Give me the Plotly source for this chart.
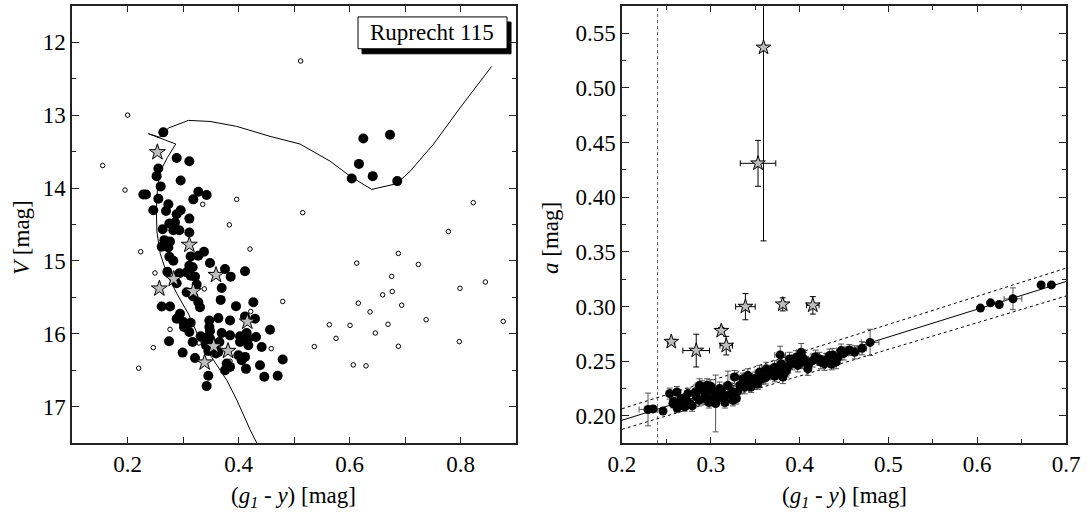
import plotly.graph_objects as go

# ---------------- Left panel: CMD ----------------
iso_x = [0.433, 0.421, 0.397, 0.379, 0.355, 0.331, 0.310, 0.289, 0.271, 0.259, 0.253, 0.252, 0.254,
         0.259, 0.272, 0.287, 0.2375, 0.2586, 0.2735, 0.3096, 0.3486, 0.3967, 0.4568, 0.5108, 0.5649,
         0.6009, 0.640, 0.685, 0.709, 0.751, 0.799, 0.856]
iso_V = [17.5, 17.32, 16.91, 16.64, 16.36, 16.09, 15.73, 15.45, 15.18, 14.9, 14.6, 14.3, 14.0,
         13.77, 13.58, 13.395, 13.253, 13.303, 13.176, 13.071, 13.085, 13.153, 13.29, 13.395, 13.63,
         13.836, 14.018, 13.94, 13.77, 13.40, 12.90, 12.33]

mem_x = [0.2645, 0.2886, 0.3114, 0.2556, 0.2525, 0.2958, 0.2598, 0.2285, 0.2333, 0.3276, 0.3426, 0.3186,
         0.2556, 0.2465, 0.2736, 0.2694, 0.2958, 0.2886, 0.3114, 0.2754, 0.2856, 0.2934, 0.2634, 0.2826,
         0.3114, 0.2664, 0.2766, 0.2616, 0.2736, 0.3378, 0.3276, 0.3138, 0.3486, 0.2754, 0.2826, 0.3114,
         0.3174, 0.2718, 0.2934, 0.3066, 0.3138, 0.3216, 0.3757, 0.4117, 0.3859, 0.2886, 0.3246, 0.3697,
         0.3066, 0.3186, 0.3679, 0.2616, 0.2766, 0.3276, 0.3306, 0.3955, 0.4267, 0.2946, 0.2886, 0.3006,
         0.3138, 0.3474, 0.3637, 0.3847, 0.4117, 0.4297, 0.3018, 0.3114, 0.3474, 0.3486, 0.3697, 0.3847,
         0.4147, 0.4568, 0.3318, 0.3396, 0.3486, 0.4027, 0.4177, 0.4315, 0.2748, 0.3174, 0.3414, 0.3559,
         0.3655, 0.4027, 0.4177, 0.4417, 0.3637, 0.2994, 0.3456, 0.3595, 0.3997, 0.4117, 0.3216, 0.4057,
         0.4796, 0.3787, 0.3847, 0.3757, 0.4387, 0.4135, 0.3456, 0.4465, 0.4706, 0.3426,
         0.6249, 0.673, 0.617, 0.604, 0.6418, 0.686]
mem_V = [13.235, 13.586, 13.631, 13.731, 13.836, 13.895, 13.977, 14.087, 14.087, 14.05, 14.096, 14.155,
         14.146, 14.305, 14.223, 14.314, 14.305, 14.36, 14.419, 14.487, 14.474, 14.578, 14.565, 14.578,
         14.61, 14.715, 14.733, 14.806, 14.815, 14.874, 14.929, 14.938, 15.029, 14.943, 14.997, 15.066,
         15.088, 15.148, 15.17, 15.157, 15.202, 15.216, 15.111, 15.143, 15.216, 15.307, 15.325, 15.371,
         15.43, 15.489, 15.535, 15.626, 15.626, 15.567, 15.635, 15.621, 15.567, 15.726, 15.794, 15.84,
         15.849, 15.817, 15.785, 15.817, 15.762, 15.794, 15.908, 15.976, 15.908, 15.963, 15.99, 16.022,
         15.99, 15.945, 16.036, 16.054, 16.067, 16.036, 16.067, 16.045, 16.104, 16.113, 16.158, 16.158,
         16.113, 16.113, 16.158, 16.181, 16.25, 16.259, 16.236, 16.272, 16.295, 16.318, 16.332, 16.364,
         16.354, 16.409, 16.455, 16.5, 16.432, 16.482, 16.577, 16.591, 16.577, 16.719,
         13.32, 13.267, 13.668, 13.868, 13.836, 13.904]

star_x = [0.2538, 0.3114, 0.3595, 0.2832, 0.2574, 0.3186, 0.4159, 0.3553, 0.3811, 0.339]
star_V = [13.508, 14.779, 15.193, 15.248, 15.38, 15.416, 15.835, 16.172, 16.236, 16.395]

fld_x = [0.1553, 0.2003, 0.512, 0.1955, 0.3967, 0.3355, 0.5157, 0.3835, 0.823, 0.778, 0.4207, 0.2238,
         0.2495, 0.3384, 0.4796, 0.422, 0.2766, 0.3288, 0.2465, 0.459, 0.2201, 0.3847,
         0.688, 0.613, 0.724, 0.676, 0.8447, 0.799, 0.6598, 0.677, 0.6159, 0.694, 0.637, 0.738, 0.877,
         0.5636, 0.6009, 0.6694, 0.5757, 0.6465, 0.7978, 0.5366, 0.688, 0.6068, 0.6297]
fld_V = [13.69, 12.998, 12.255, 14.027, 14.155, 14.223, 14.337, 14.505, 14.2, 14.597, 14.837, 14.874,
         15.166, 15.384, 15.557, 15.694, 15.94, 16.127, 16.19, 16.204, 16.473, 16.377,
         14.897, 15.03, 15.048, 15.212, 15.289, 15.376, 15.466, 15.42, 15.58, 15.608, 15.7, 15.807, 15.83,
         15.876, 15.885, 15.87, 16.063, 15.99, 16.108, 16.176, 16.172, 16.428, 16.441]

# ---------------- Right panel: a vs (g1-y) ----------------
r_x = [0.2293, 0.2350, 0.2462, 0.2537, 0.2619, 0.2574, 0.2649, 0.2705, 0.2743, 0.2761, 0.2668, 0.2874,
       0.2912, 0.2957, 0.2930, 0.3005, 0.3024, 0.3061, 0.3099, 0.2836, 0.3054, 0.3136, 0.3193, 0.3249,
       0.3287, 0.3268, 0.3362, 0.3418, 0.3455, 0.3474, 0.3549, 0.3587, 0.3624, 0.3662, 0.3718, 0.3756,
       0.3793, 0.3781, 0.3811, 0.3849, 0.3887, 0.3961, 0.4018, 0.4036, 0.4093, 0.4149, 0.4224, 0.4281,
       0.4336, 0.4374, 0.4411, 0.4468, 0.4560, 0.4704, 0.4794,
       0.6036, 0.6150, 0.6248, 0.6403, 0.6720, 0.6835,
       0.258, 0.262, 0.268, 0.272, 0.279, 0.283, 0.287, 0.290, 0.294, 0.298, 0.300, 0.304, 0.308,
       0.312, 0.316, 0.320, 0.325, 0.330, 0.333, 0.338, 0.342, 0.350, 0.353, 0.357, 0.362, 0.368,
       0.372, 0.378, 0.383, 0.387, 0.392, 0.398, 0.405, 0.410, 0.418, 0.424, 0.430, 0.436, 0.443,
       0.450, 0.462]
r_a = [0.2057, 0.2062, 0.2042, 0.2202, 0.2217, 0.2112, 0.2096, 0.2081, 0.2202, 0.2112, 0.2157, 0.2278,
       0.2233, 0.2278, 0.2157, 0.2233, 0.2157, 0.2202, 0.2248, 0.2172, 0.2112, 0.2187, 0.2278, 0.2218,
       0.2157, 0.2354, 0.2339, 0.2369, 0.2263, 0.2324, 0.2399, 0.2339, 0.2429, 0.2384, 0.2444, 0.2399,
       0.2475, 0.2556, 0.2354, 0.2414, 0.2520, 0.2535, 0.2581, 0.2490, 0.2429, 0.2505, 0.2520, 0.2475,
       0.2550, 0.2556, 0.2490, 0.2596, 0.2602, 0.2617, 0.2671,
       0.2985, 0.3033, 0.3018, 0.3070, 0.3197, 0.3197,
       0.213, 0.207, 0.212, 0.216, 0.209, 0.222, 0.214, 0.226, 0.219, 0.212, 0.227, 0.222, 0.216,
       0.223, 0.212, 0.219, 0.214, 0.222, 0.228, 0.226, 0.231, 0.234, 0.229, 0.236, 0.235, 0.240,
       0.236, 0.242, 0.239, 0.245, 0.248, 0.246, 0.252, 0.247, 0.254, 0.249, 0.251, 0.247, 0.253,
       0.257, 0.258]
r_ex = [0.010, 0.003, 0.003, 0.004, 0.004, 0.003, 0.004, 0.004, 0.004, 0.003, 0.004, 0.005,
        0.004, 0.005, 0.004, 0.004, 0.004, 0.004, 0.005, 0.004, 0.004, 0.004, 0.005, 0.004,
        0.004, 0.005, 0.004, 0.005, 0.004, 0.004, 0.005, 0.004, 0.005, 0.004, 0.005, 0.004,
        0.005, 0.006, 0.004, 0.005, 0.005, 0.005, 0.005, 0.004, 0.004, 0.005, 0.005, 0.004,
        0.005, 0.005, 0.004, 0.005, 0.005, 0.005, 0.010,
        0.002, 0.002, 0.002, 0.010, 0.002, 0.002,
        0.003, 0.003, 0.004, 0.003, 0.004, 0.004, 0.004, 0.005, 0.004, 0.004, 0.005, 0.004, 0.004,
        0.004, 0.004, 0.004, 0.004, 0.005, 0.004, 0.005, 0.005, 0.005, 0.004, 0.005, 0.005, 0.005,
        0.004, 0.005, 0.005, 0.005, 0.005, 0.005, 0.005, 0.004, 0.005, 0.005, 0.005, 0.004, 0.005,
        0.005, 0.005]
r_ey = [0.015, 0.003, 0.003, 0.005, 0.005, 0.004, 0.004, 0.004, 0.005, 0.004, 0.004, 0.006,
        0.005, 0.006, 0.005, 0.005, 0.005, 0.005, 0.006, 0.005, 0.026, 0.005, 0.013, 0.005,
        0.005, 0.006, 0.005, 0.006, 0.005, 0.005, 0.006, 0.005, 0.006, 0.005, 0.006, 0.005,
        0.006, 0.008, 0.006, 0.006, 0.006, 0.006, 0.008, 0.006, 0.006, 0.006, 0.006, 0.006,
        0.006, 0.006, 0.006, 0.006, 0.005, 0.006, 0.012,
        0.002, 0.002, 0.002, 0.010, 0.002, 0.002,
        0.004, 0.004, 0.005, 0.004, 0.005, 0.006, 0.005, 0.006, 0.005, 0.005, 0.006, 0.005, 0.005,
        0.005, 0.005, 0.005, 0.005, 0.006, 0.005, 0.006, 0.006, 0.006, 0.005, 0.006, 0.006, 0.006,
        0.005, 0.006, 0.006, 0.006, 0.006, 0.006, 0.006, 0.005, 0.006, 0.006, 0.006, 0.005, 0.006,
        0.006, 0.006]

rs_x = [0.3594, 0.3532, 0.3390, 0.3810, 0.4149, 0.3118, 0.3174, 0.2555, 0.2836]
rs_a = [0.5370, 0.4310, 0.2998, 0.3019, 0.3010, 0.2777, 0.2641, 0.2677, 0.2596]
rs_ex = [0.002, 0.020, 0.011, 0.003, 0.007, 0.003, 0.007, 0.004, 0.015]
rs_ey = [0.177, 0.021, 0.012, 0.006, 0.008, 0.003, 0.0085, 0.002, 0.015]

fit_x = [0.2, 0.7]
fit_a = [0.1958, 0.3228]
up_a = [0.2063, 0.3350]
lo_a = [0.1875, 0.3095]
cut_x = 0.24

FONT = "Liberation Serif, Times New Roman, serif"
AX = "#222222"

fig = go.Figure()

# left panel
fig.add_trace(go.Scatter(x=fld_x, y=fld_V, mode="markers", xaxis="x", yaxis="y",
                         marker=dict(symbol="circle-open", size=4.5, color="black", line=dict(width=1))))
fig.add_trace(go.Scatter(x=iso_x, y=iso_V, mode="lines", xaxis="x", yaxis="y",
                         line=dict(color="black", width=1)))
fig.add_trace(go.Scatter(x=mem_x, y=mem_V, mode="markers", xaxis="x", yaxis="y",
                         marker=dict(symbol="circle", size=10, color="black")))
fig.add_trace(go.Scatter(x=star_x, y=star_V, mode="markers", xaxis="x", yaxis="y",
                         marker=dict(symbol="star", size=12, color="#bdbdbd",
                                     line=dict(color="black", width=1))))

# right panel
fig.add_trace(go.Scatter(x=[cut_x, cut_x], y=[0.175, 0.575], mode="lines", xaxis="x2", yaxis="y2",
                         line=dict(color="#666666", width=1, dash="dot")))
fig.add_trace(go.Scatter(x=fit_x, y=up_a, mode="lines", xaxis="x2", yaxis="y2",
                         line=dict(color="black", width=1, dash="dot")))
fig.add_trace(go.Scatter(x=fit_x, y=lo_a, mode="lines", xaxis="x2", yaxis="y2",
                         line=dict(color="black", width=1, dash="dot")))
fig.add_trace(go.Scatter(x=fit_x, y=fit_a, mode="lines", xaxis="x2", yaxis="y2",
                         line=dict(color="black", width=1)))
fig.add_trace(go.Scatter(x=r_x, y=r_a, mode="markers", xaxis="x2", yaxis="y2",
                         error_x=dict(type="data", array=r_ex, color="#555555", thickness=1, width=3),
                         error_y=dict(type="data", array=r_ey, color="#555555", thickness=1, width=3),
                         marker=dict(symbol="circle", size=9, color="black")))
fig.add_trace(go.Scatter(x=rs_x, y=rs_a, mode="markers", xaxis="x2", yaxis="y2",
                         error_x=dict(type="data", array=rs_ex, color="black", thickness=1, width=3),
                         error_y=dict(type="data", array=rs_ey, color="black", thickness=1, width=3),
                         marker=dict(symbol="star", size=11, color="#bdbdbd",
                                     line=dict(color="black", width=1))))

tickfont = dict(family=FONT, size=23, color="black")
common = dict(showline=True, linecolor=AX, linewidth=1.5, mirror="allticks", ticks="inside",
              tickcolor=AX, tickwidth=1, showgrid=False, zeroline=False, tickfont=tickfont)

fig.update_layout(
    width=1090, height=524,
    margin=dict(l=72, r=24, t=4, b=81),
    paper_bgcolor="white", plot_bgcolor="white",
    showlegend=False,
    font=dict(family=FONT, color="black"),
    xaxis=dict(domain=[0, 0.4467], range=[0.1, 0.9], tickvals=[0.2, 0.4, 0.6, 0.8], ticklen=6,
               minor=dict(dtick=0.1, tick0=0.1, ticklen=6, ticks="inside", tickcolor=AX), **common),
    yaxis=dict(domain=[0, 1], range=[17.5, 11.5], dtick=1, ticklen=7,
               minor=dict(dtick=0.5, ticklen=4, ticks="inside", tickcolor=AX), **common),
    xaxis2=dict(domain=[0.5533, 1], range=[0.2, 0.7], dtick=0.1, tick0=0.2, ticklen=6, anchor="y2",
                tickformat=".1f",
                minor=dict(dtick=0.05, ticklen=4, ticks="inside", tickcolor=AX), **common),
    yaxis2=dict(domain=[0, 1], range=[0.175, 0.575], tickvals=[0.20, 0.25, 0.30, 0.35, 0.40, 0.45, 0.50, 0.55],
                tickformat=".2f", ticklen=7, anchor="x2",
                minor=dict(dtick=0.025, tick0=0.2, ticklen=4, ticks="inside", tickcolor=AX), **common),
)

# Cluster name box with shadow
fig.add_shape(type="rect", xref="x", yref="y", x0=0.6225, x1=0.891, y0=11.72, y1=12.156,
              fillcolor="black", line=dict(color="black", width=1))
fig.add_shape(type="rect", xref="x", yref="y", x0=0.6153, x1=0.8838, y0=11.65, y1=12.087,
              fillcolor="white", line=dict(color="black", width=1))
fig.add_annotation(x=0.7495, y=11.868, xref="x", yref="y", text="Ruprecht 115", showarrow=False,
                   xanchor="center", yanchor="middle",
                   font=dict(family=FONT, size=23, color="black"))

title_font = dict(family=FONT, size=23, color="black")
fig.add_annotation(x=-0.0503, y=0.4692, xref="paper", yref="paper", text="<i>V</i> [mag]",
                   textangle=-90, showarrow=False, xanchor="center", yanchor="middle", font=title_font)
fig.add_annotation(x=0.4819, y=0.4692, xref="paper", yref="paper", text="<i>a</i> [mag]",
                   textangle=-90, showarrow=False, xanchor="center", yanchor="middle", font=title_font)
fig.add_annotation(x=0.2233, y=-0.123, xref="paper", yref="paper",
                   text="(<i>g</i><sub><i>1</i></sub> - <i>y</i>) [mag]", showarrow=False,
                   xanchor="center", yanchor="middle", font=title_font)
fig.add_annotation(x=0.7767, y=-0.123, xref="paper", yref="paper",
                   text="(<i>g</i><sub><i>1</i></sub> - <i>y</i>) [mag]", showarrow=False,
                   xanchor="center", yanchor="middle", font=title_font)

fig.write_html("out.html", config={"displayModeBar": False},
               post_script="document.body.style.margin='0px';")
